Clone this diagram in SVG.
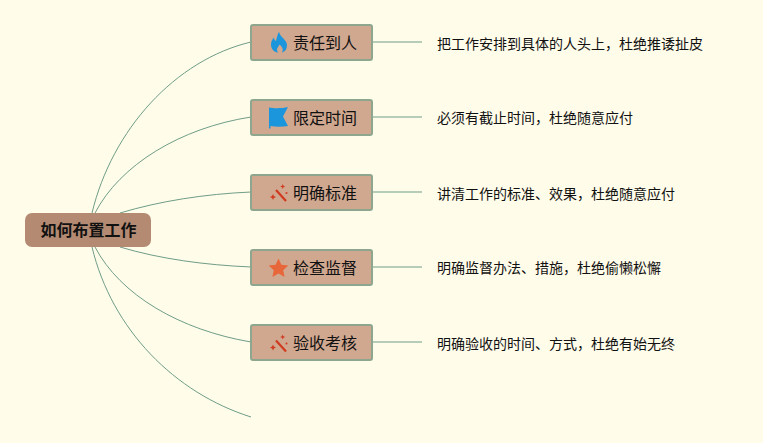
<svg xmlns="http://www.w3.org/2000/svg" width="763" height="443" viewBox="0 0 763 443">
<style>
text{font-family:"Liberation Sans","Noto Sans CJK SC",sans-serif;fill:#111}
.n{fill:#d0a78f;stroke:#8fa68e;stroke-width:2}
.t{font-size:16px}
.d{font-size:14px}
.c{fill:none;stroke:#6f9d86;stroke-width:1}
.w{fill:#d03a1e}
.ws{stroke:#d03a1e;stroke-width:2.200;fill:none}
</style>
<defs>
<g id="wand"><path class="ws" d="M-3 -2.500L7 8.500"/><path class="w" d="M-6 1.500l.9 2.100 2.100 .9-2.100 .9-.9 2.100-.9-2.100-2.100-.9 2.100-.9z"/><path class="w" d="M3.700 -8.500l.7 1.800 1.800 .7-1.800 .7-.7 1.800-.7-1.800-1.800-.7 1.800-.7z"/><circle class="w" cx="7.500" cy=".5" r="1"/></g>
</defs>
<rect width="763" height="443" fill="#fffcea"/>
<g id="connectors">
<path class="c" d="M92 213C112 130 175 60 251 42"/>
<path class="c" d="M95 213C120 165 180 128 251 117"/>
<path class="c" d="M120 213C160 201 205 194 251 192"/>
<path class="c" d="M120 247C160 259 205 265 251 267"/>
<path class="c" d="M95 247C120 295 180 330 251 342"/>
<path class="c" d="M92 247C112 330 175 393 251 417"/>
<path class="c" d="M372 42H422M372 117H422M372 192H422M372 267H422M372 342H422"/>
</g>
<g id="root"><rect x="25" y="213" width="126" height="34" rx="7" fill="#b48b72"/><text x="88.500" y="236" text-anchor="middle" font-size="16" font-weight="700">如何布置工作</text></g>
<g id="node1"><rect class="n" x="251" y="25" width="121" height="35" rx="2"/><path d="M279 32c1 5 8 8 8 13 0 4-2 6.500-5 7.500 1.500-2.500 1-5-2.500-8-1 2.500-2.500 3-2.500 5 0 1 .3 2 1 3-4-.5-7-3.500-7-8 0-3 1.500-5.500 3-7 0 2 .8 3 2 3.500 1-4 1.500-6.500 3-9.500z" fill="#1b96dc"/><text class="t" x="293" y="49">责任到人</text></g>
<g id="d1"><text class="d" x="437" y="49">把工作安排到具体的人头上，杜绝推诿扯皮</text></g>
<g id="node2"><rect class="n" x="251" y="100" width="121" height="35" rx="2"/><path d="M269 107.500C274 108.500 282 108.500 288 107L283 116.500L288 126C282 127 276 127 270.500 126V128.500H269z" fill="#1b96dc"/><text class="t" x="293" y="124">限定时间</text></g>
<g id="d2"><text class="d" x="437" y="123">必须有截止时间，杜绝随意应付</text></g>
<g id="node3"><rect class="n" x="251" y="175" width="121" height="35" rx="2"/><use href="#wand" x="279" y="192.500"/><text class="t" x="293" y="199">明确标准</text></g>
<g id="d3"><text class="d" x="437" y="199">讲清工作的标准、效果，杜绝随意应付</text></g>
<g id="node4"><rect class="n" x="251" y="250" width="121" height="35" rx="2"/><path d="M278.500 258.500l2.900 6.200 6.900 .8-5.100 4.700 1.400 6.800-6.100-3.500-6.100 3.500 1.400-6.800-5.100-4.700 6.900-.8z" fill="#e8673a"/><text class="t" x="293" y="274">检查监督</text></g>
<g id="d4"><text class="d" x="437" y="273">明确监督办法、措施，杜绝偷懒松懈</text></g>
<g id="node5"><rect class="n" x="251" y="325" width="121" height="35" rx="2"/><use href="#wand" x="279" y="343"/><text class="t" x="293" y="349">验收考核</text></g>
<g id="d5"><text class="d" x="437" y="349">明确验收的时间、方式，杜绝有始无终</text></g>
</svg>
